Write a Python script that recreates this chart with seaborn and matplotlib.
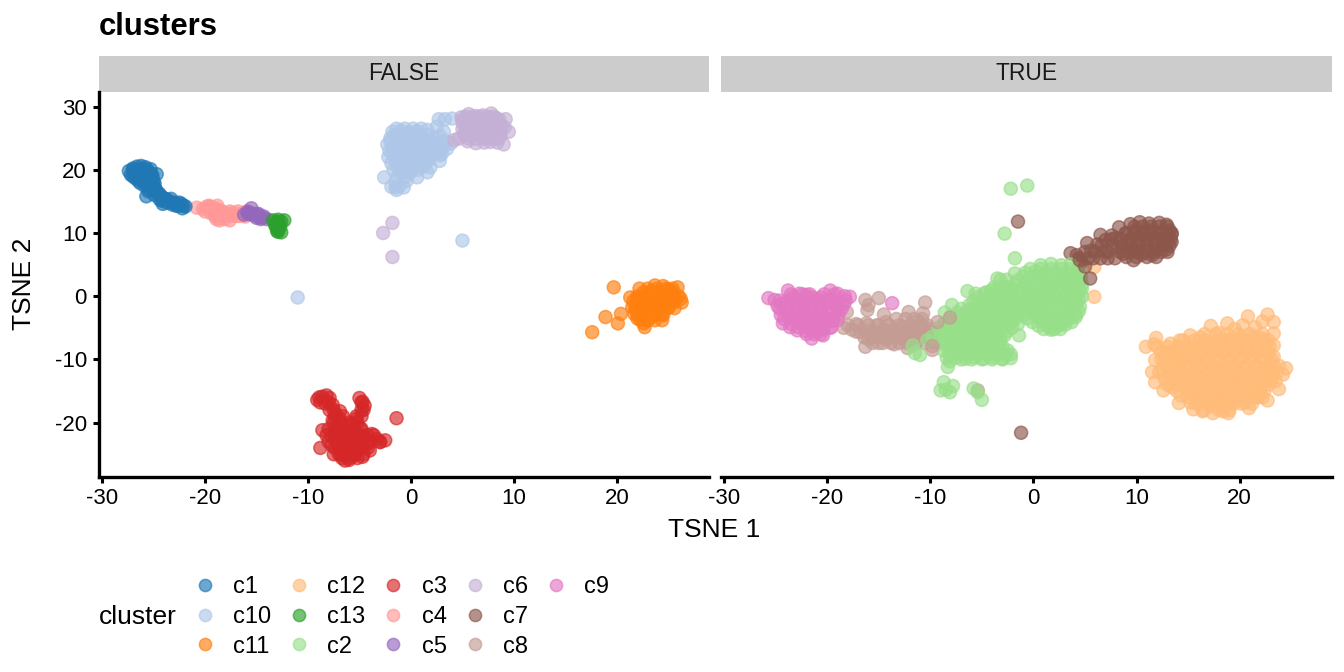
# t-SNE clusters split by a TRUE/FALSE flag
import pandas as pd
import matplotlib
matplotlib.use("Agg")
import matplotlib.pyplot as plt
from matplotlib.lines import Line2D
from matplotlib.patches import Rectangle
import seaborn as sns

# points as (TSNE 1, TSNE 2)
c10 = [(-1.8,26), (-1,26.2), (-.2,25.9), (.6,26.1), (1.6,26.3), (-2,25), (-1.2,25.1), (-.4,24.8), (.4,25.2), (1.2,24.9),
       (2.2,25), (2.8,25.4), (-2.3,24), (-1.5,23.9), (-.7,24.1), (.1,23.8), (.9,24.1), (1.7,23.9), (2.6,24.2), (3.3,24.6),
       (-2.1,23), (-1.3,23.1), (-.5,22.9), (.3,23), (1.1,22.8), (1.9,23.1), (2.7,22.9), (3.5,23.3), (-2.2,22), (-1.4,21.9),
       (-.6,22.1), (.2,21.9), (1,22), (1.8,21.8), (2.8,21.4), (-1.9,21), (-1.1,21.1), (-.3,20.9), (.5,21), (1.3,20.8),
       (1.9,20.4), (-1.7,20), (-.9,20.1), (-.1,19.8), (.7,20), (1.6,19.6), (-1.3,19), (-.5,18.9), (-2.6,18.8), (.6,18.8),
       (-1.9,17.3), (-1.5,17.2), (-1.1,17.4), (-.7,17.2), (-1.4,16.8), (-.4,18.3), (-1.5,18.2),
       (2.7,28), (3.3,28), (4,28.1), (2.5,26.8), (3.2,26), (3.9,24.2), (2.8,22.3), (5,8.8), (-11,-.2)]
c6 = [(4.9,28.3), (5.6,28.8), (6.3,28.5), (7,28.6), (7.8,28.9), (8.3,28.2), (5,27.4), (5.7,27.6), (6.4,27.5), (7.1,27.3),
      (7.8,27.6), (8.5,27.4), (9.2,28), (5,26.4), (5.6,26.5), (6.3,26.3), (7,26.6), (7.7,26.4), (8.4,26.5), (9.1,26.7),
      (5.2,25.4), (5.9,25.3), (6.6,25.5), (7.3,25.2), (8,25.5), (8.7,25.3), (9.5,26), (4.6,24.9), (5.5,24.5), (6.3,24.2),
      (7.1,24.3), (7.7,24.4), (8.4,24.3), (9,24), (4.2,24.7), (-2.7,10), (-1.8,11.6), (-1.8,6.2)]
c4 = [(-20.8,14), (-20.2,13.8), (-19.8,14.2), (-19.4,14.1), (-19,13.9), (-19.4,13.1), (-19,13), (-18.6,13.6), (-18.9,12.2),
      (-18.5,12.8), (-18.1,13.2), (-18.1,12.2), (-17.7,12.9), (-17.3,13.2), (-16.9,12.7), (-16.5,13.1), (-16.1,12.6), (-15.8,13.4)]
c1 = [(-27.4,19.8), (-27.2,19.2), (-27,20.2), (-26.8,19.4), (-26.6,20.5), (-26.5,20), (-26.4,19.6), (-26.2,20.6), (-26,19.6),
      (-26,20.1), (-25.8,20.4), (-25.6,19.5), (-25.3,20.1), (-25.4,18.9), (-25.2,19.3), (-24.7,19.3), (-26.8,18.7), (-26.3,18.6),
      (-25.8,18.4), (-25.4,18), (-25.9,17.5), (-26.3,17.9), (-25.2,17.3), (-24.9,17.1), (-25.7,15.8), (-25.5,16.6), (-24.8,16.8),
      (-24.5,16.3), (-24.3,15.9), (-24,15.5), (-24.2,15.1), (-23.7,15.3), (-23.4,14.9), (-23.2,14.5), (-24.1,14.6), (-22.9,14.7),
      (-22.6,14.3), (-22.3,14.6), (-22.2,13.9), (-21.9,14.2), (-25,18.2), (-24.9,17.8), (-23.3,15.4)]
c5 = [(-16.2,12.9), (-15.7,13.2), (-15.5,13.9), (-15.3,12.8), (-15,13), (-14.7,12.5), (-14.3,12.6), (-14.6,12.2), (-14,12.2), (-15.9,13.3)]
c13 = [(-13.4,12), (-12.9,12.1), (-12.3,12), (-13.2,11.3), (-12.8,11.4), (-12.9,10.6), (-12.6,10.1), (-13,10.3),
       (-13,11.8), (-12.7,11), (-13.1,11), (-12.6,11.8), (-12.9,10.2)]
c3 = [(-9.1,-16.4), (-8.6,-15.9), (-8.2,-15.7), (-8.9,-16), (-7.9,-16.1), (-8.3,-17), (-7.9,-18), (-7.6,-17.2), (-7.3,-18.7), (-7.6,-19.6),
      (-7,-19.3), (-6.9,-18.2), (-5,-16.1), (-4.7,-16.7), (-4.5,-17.3), (-4.8,-18), (-4.8,-19), (-5.3,-19.4), (-5.6,-20.2), (-6.2,-20.4),
      (-7,-20.6), (-7.4,-21.2), (-6.5,-21.4), (-5.7,-21.2), (-4.9,-21), (-8.6,-21.2), (-7.7,-22.2), (-7,-22.4), (-6.2,-22.8), (-5.4,-22.4),
      (-4.6,-22.1), (-3.8,-21.8), (-3.3,-22.6), (-2.5,-22.8), (-3,-23.1), (-4.1,-23.2), (-8.8,-24), (-7.7,-23.6), (-7,-23.9), (-6.3,-24),
      (-5.5,-23.7), (-4.7,-24), (-4,-24.4), (-7.5,-25), (-6.8,-25.1), (-6.2,-25), (-5.5,-25.2), (-4.7,-25.4), (-6.4,-26), (-6,-25.9), (-1.4,-19.3)]
c11 = [(23.7,1.7), (24.5,1.6), (25,1), (25.9,1.4), (25.4,.7), (22.2,1.2), (22.6,.6), (23.3,.8), (24,.6), (24.7,.2),
       (25.5,.1), (26.2,-.4), (26.3,-1), (21.3,-.2), (22,-.3), (22.7,-.2), (23.4,-.1), (24.1,-.5), (24.8,-.7), (25.5,-.9),
       (21.5,-1.7), (22.2,-1.3), (22.9,-1.4), (23.6,-1.2), (24.3,-1.7), (25,-1.8), (25.6,-1.9), (21.7,-2.8), (22.4,-2.6), (23.1,-2.5),
       (23.8,-2.9), (24.5,-3), (22,-3.5), (22.7,-3.6), (23.4,-3.3), (24.4,-3.8), (22.7,-4.9), (22.6,-4.3), (19.7,1.4), (18.9,-3.3), (20.1,-4.3),
       (20.4,-2.8), (17.6,-5.7)]

c12 = [(10.9,-8), (11.9,-6.6), (11.7,-7.6), (13.3,-7.5), (14.2,-7), (15.2,-6.2), (16.2,-6.5), (17.2,-4.7), (18,-5.8), (18.8,-4.3),
       (19.5,-5.2), (20.8,-3.2), (20.3,-4.6), (21.5,-4.9), (22.7,-2.9), (23.3,-4.1), (22.2,-4), (23.3,-5.9), (23.3,-7.8), (23.3,-9.6),
       (24.5,-11.4), (24.2,-12.4), (23.8,-14.7), (23.5,-13.4), (22.7,-16.5), (20.9,-17.7), (18.9,-18.5), (18.4,-18.2), (17.4,-18.5), (15.5,-17.9),
       (16.4,-18.2), (14.1,-16.9), (12.6,-14.9), (11.8,-13.6), (11.5,-12), (11.8,-10.1), (12.4,-8.8), (13.5,-8.9), (14.6,-8.2), (15.7,-7.9),
       (16.8,-7.4), (17.9,-7.3), (19,-6.9), (20.1,-6.6), (21.2,-6.4), (22.2,-6.7), (12.8,-10.2), (13.9,-10), (15,-9.6), (16.1,-9.3),
       (17.2,-9), (18.3,-8.8), (19.4,-8.4), (20.5,-8.1), (21.6,-8.2), (22.5,-8.7), (12.5,-11.6), (13.6,-11.4), (14.7,-11.1), (15.8,-10.9),
       (16.9,-10.6), (18,-10.3), (19.1,-10), (20.2,-9.8), (21.3,-9.7), (22.4,-10.2), (23.3,-11), (12.7,-13), (13.8,-12.9), (14.9,-12.6),
       (16,-12.3), (17.1,-12.1), (18.2,-11.8), (19.3,-11.6), (20.4,-11.3), (21.5,-11.2), (22.6,-11.7), (23.6,-12), (13.4,-14.4), (14.5,-14.2),
       (15.6,-13.9), (16.7,-13.6), (17.8,-13.3), (18.9,-13.1), (20,-12.9), (21.1,-12.7), (22.2,-13), (23,-13.4), (14.3,-15.7), (15.4,-15.5),
       (16.5,-15.2), (17.6,-14.9), (18.7,-14.6), (19.8,-14.4), (20.9,-14.2), (22,-14.6), (15.2,-16.8), (16.3,-16.6), (17.4,-16.4), (18.5,-16.1),
       (19.6,-15.9), (20.7,-15.7), (21.8,-15.9), (17.2,-17.4), (18.3,-17.3), (19.4,-17), (20.5,-16.8), (5.9,4.6), (5.9,-.1)]
c7 = [(3.6,6.8), (4.2,6.5), (4.6,5.4), (5.2,8.4), (5.6,7.2), (5.3,6), (6.5,9.7), (6.2,8.2), (7,8.9), (6.9,7.1),
      (7.2,6), (7.6,9.6), (8.3,10.9), (8,9.2), (8.2,7.7), (8.7,6.7), (9.7,5.7), (8.9,9.9), (9.2,8.6), (9.4,11.4),
      (9.6,7.3), (9.9,10.4), (10.1,8.7), (10.3,11.7), (10.5,6.6), (10.7,9.6), (11,7.8), (11.2,11.5), (11.4,10.4), (11.5,6.5),
      (11.7,8.9), (12,7.3), (12.2,11.6), (12.4,10), (12.5,8.3), (12.9,11.3), (13,9.2), (13.2,10.4), (13.4,8.6), (13.4,9.8),
      (12.9,7.4), (-1.5,11.8), (-1.2,-21.6)]
c8 = [(-18.4,-5), (-17.6,-5.3), (-16.8,-5.7), (-16.3,-8), (-16,-6.8), (-15.2,-6.2), (-15,-7.4), (-14.3,-5.4), (-14.2,-6.8), (-13.5,-7.6),
      (-13.4,-5.8), (-12.6,-6.7), (-12.7,-4.8), (-12.2,-8.2), (-11.9,-7), (-12.1,-2.5), (-11.6,-5.4), (-11.2,-3.9), (-10.9,-6.3), (-10.8,-4.7),
      (-10.5,-1), (-10.7,-2.7), (-10.1,-5.2), (-9.8,-8.5), (-9.6,-7.3), (-16.3,-.6), (-16.1,-2.2), (-15,-.3), (-14.5,-2.9), (-18.1,-2.5),
      (-17.2,-4.4), (-16.2,-4.3), (-15.2,-4.6), (-14.3,-4.1), (-13.3,-3.6), (-5.4,-14.9)]
c9 = [(-25.7,-.3), (-25.1,-.6), (-24.4,-1.2), (-23.8,.9), (-23.3,-.1), (-22.7,.4), (-22,.2), (-21.4,-.2), (-20.6,-.2), (-19.7,.9),
      (-19,.4), (-18.3,0), (-17.8,-.1), (-24.8,-1.6), (-24,-2), (-23.2,-1.5), (-22.4,-1.4), (-21.6,-1.6), (-20.8,-1.4), (-20,-1.2),
      (-19.2,-1.2), (-18.4,-1.3), (-24.5,-3), (-23.7,-3.2), (-22.9,-2.9), (-22.1,-3), (-21.3,-3), (-20.5,-2.8), (-19.7,-2.7), (-18.9,-2.9),
      (-24.3,-4.3), (-23.5,-4.4), (-22.7,-4.2), (-21.9,-4.3), (-21.1,-4.3), (-20.3,-4), (-19.5,-3.9), (-19,-3.8), (-22.9,-5.4), (-22.1,-5.5),
      (-21.3,-5.5), (-20.4,-5.3), (-19.7,-5), (-21.5,-6.7), (-20.4,-6.2), (-13.7,-1.1)]
c2 = [(-4.6,.6), (-3.6,.8), (-5.4,-.2), (-4.4,-.3), (-3.5,-.1), (-2.6,-.2), (-6.2,-1.4), (-5.3,-1.3), (-4.4,-1.5), (-3.5,-1.3),
      (-2.6,-1.5), (-1.7,-1.3), (-7.4,-2.6), (-6.5,-2.5), (-5.6,-2.7), (-4.7,-2.5), (-3.8,-2.7), (-2.9,-2.5), (-2,-2.7), (-1.1,-2.6),
      (-8.2,-3.8), (-7.3,-3.7), (-6.4,-3.9), (-5.5,-3.7), (-4.6,-3.9), (-3.7,-3.7), (-2.8,-3.9), (-1.9,-3.8), (-9.2,-5), (-8.4,-5.1),
      (-7.5,-4.9), (-6.6,-5.1), (-5.7,-4.9), (-4.8,-5.1), (-3.9,-4.9), (-3,-5.1), (-2.1,-5), (-9,-6.2), (-8.1,-6.1), (-7.2,-6.3),
      (-6.3,-6.1), (-5.4,-6.3), (-4.5,-6.1), (-3.6,-6.3), (-2.8,-6.2), (-8.8,-7.4), (-7.9,-7.3), (-7,-7.5), (-6.1,-7.3), (-5.2,-7.5),
      (-4.3,-7.3), (-3.4,-7.5), (-8.7,-8.6), (-7.8,-8.5), (-6.9,-8.7), (-6,-8.5), (-5.1,-8.7), (-4.2,-8.5), (-3.3,-8.7), (-2.5,-8.6),
      (-8.4,-9.8), (-7.5,-9.7), (-6.6,-9.9), (-5.7,-9.7), (-4.8,-9.9), (-3.9,-9.7), (-3,-9.9), (-2.2,-9.8), (-8.3,-11.2), (-8.1,-10.3),
      (-8.7,-13.6), (-9,-14.9), (-8.1,-15.2), (-7.8,-14.2), (-8.5,-14.8), (-5.8,-14.6), (-5,-16.4), (-5.4,-15.2), (-11.7,-7.8), (-11,-9.3),
      (-11.5,-9), (-10.3,-7), (-9.8,-6.4), (-3.5,2.8), (-1.8,6), (-6.4,.8), (-7.9,-1.4), (-8.6,-2.6), (-1.4,-6.2), (-2.2,17),
      (-.6,17.5), (-2.8,9.9), (.7,4.9), (1.7,5.1), (2.7,4.9), (3.6,5), (-.8,3.7), (.2,3.9), (1.2,3.7), (2.2,3.8),
      (3.2,3.6), (4.2,3.8), (-1.5,2.5), (-.5,2.7), (.5,2.5), (1.5,2.6), (2.5,2.4), (3.5,2.6), (4.5,2.5), (-2.2,1.3),
      (-1.2,1.1), (-.2,1.3), (.8,1.2), (1.8,1.4), (2.8,1.2), (3.8,1.3), (4.7,1.2), (-2,.1), (-1,-.1), (0,.1),
      (1,-.1), (2,.1), (3,-.1), (4,.1), (4.7,-.1), (-1.8,-1.1), (-.8,-1.2), (.2,-1), (1.2,-1.2), (2.2,-1),
      (3.2,-1.2), (4.2,-1.1), (-1.3,-2.3), (-.3,-2.2), (.7,-2.4), (1.7,-2.2), (2.7,-2.4), (3.7,-2.2), (4.4,-2.4), (-.6,-3.5),
      (.4,-3.4), (1.4,-3.6), (2.4,-3.4), (3.4,-3.6), (4.1,-3.3), (.5,-4.7), (1.5,-4.9), (2.5,-4.6), (3.1,-4.5), (1.7,-5.3)]
c7_top = [(4.5,5.7), (5,4.7), (5.5,2.8)]
c8_top = [(-9.3,-4.1), (-8.1,-3.4), (-9.8,-7.9)]

# the dense middles of the blobs, one (TSNE 2, [TSNE 1 ...]) per row
c10_rows = [(26.5, [-1.4, -.6, .2, 1]), (25.5, [-1.6, -.8, 0, .8, 1.6]), (24.5, [-2, -1.1, -.3, .5, 1.3, 2.1]),
            (23.5, [-1.7, -.9, -.1, .7, 1.5, 2.3, 3.1]), (22.5, [-1.8, -1, -.2, .6, 1.4, 2.2, 3]),
            (21.5, [-1.5, -.7, .1, .9, 1.7]), (20.5, [-1.3, -.5, .3, 1.1]), (19.5, [-.9, -.1])]
c6_rows = [(28.4, [5.3, 6, 6.7, 7.4, 8]), (27.9, [5, 5.7, 6.4, 7.1, 7.8, 8.6]), (26.9, [5.3, 6, 6.7, 7.4, 8.1, 8.8]),
           (25.9, [5.2, 5.9, 6.6, 7.3, 8, 8.7]), (24.9, [5.6, 6.3, 7, 7.7, 8.4])]
c4_rows = [(14.3, [-19.6, -18.8]), (13.4, [-20, -19.2, -18.4, -17.6, -16.8, -16]), (12.7, [-19, -18.2, -17.4, -16.6]),
           (12, [-18.6, -17.6])]
c1_rows = [(20, [-27, -26.2, -25.6]), (19.5, [-26.8, -26, -25.4]), (19, [-27, -26.3, -25.7, -25.1]), (18.3, [-26.5, -25.9, -25.3]),
           (17.7, [-25.7, -25.2]), (16.9, [-25.4, -24.8]), (16, [-24.9, -24.4]), (15.3, [-24.4, -23.9]),
           (14.8, [-23.7, -23, -22.5]), (14.3, [-22.8, -22.1])]
c5_rows = [(13, [-15.8, -15.2, -14.8]), (12.4, [-15, -14.4])]
c3_rows = [(-16.8, [-8.8, -8, -4.8]), (-18, [-7.5, -4.6]), (-19, [-7.4, -6.6, -5.3]), (-20, [-7.5, -6.8, -6, -5.2]),
           (-21, [-8, -7.2, -6.4, -5.6, -4.8]), (-22, [-8.2, -7.4, -6.6, -5.8, -5, -4.2, -3.6]),
           (-23, [-8, -7.2, -6.4, -5.6, -4.8, -4, -3]), (-24, [-7.4, -6.6, -5.8, -5, -4.2]),
           (-25, [-7, -6.2, -5.4, -4.6]), (-25.6, [-6.7, -6, -5.2])]
c11_rows = [(1.2, [23, 23.9, 24.8, 25.4]), (0, [22, 22.8, 23.6, 24.4, 25.2, 26]), (-.8, [21.6, 22.4, 23.2, 24, 24.8, 25.6]),
            (-1.8, [21.8, 22.6, 23.4, 24.2, 25]), (-2.8, [22, 22.8, 23.6, 24.4]), (-3.8, [22.3, 23, 23.7])]
c12_rows = [(-6, [16.6, 17.7, 18.8, 19.9, 21, 22.2]), (-7, [14.5, 15.6, 16.7, 17.8, 18.9, 20, 21.1, 22.2, 22.8]),
            (-8, [12, 13, 14.1, 15.2, 16.3, 17.4, 18.5, 19.6, 20.7, 21.8, 22.9]),
            (-9, [12.9, 14, 15.1, 16.2, 17.3, 18.4, 19.5, 20.6, 21.7, 22.8]),
            (-10, [12.4, 13.5, 14.6, 15.7, 16.8, 17.9, 19, 20.1, 21.2, 22.3, 23.1]),
            (-11, [12.9, 14, 15.1, 16.2, 17.3, 18.4, 19.5, 20.6, 21.7, 22.8, 23.8]),
            (-12, [12.2, 13.3, 14.4, 15.5, 16.6, 17.7, 18.8, 19.9, 21, 22.1, 23.2]),
            (-13, [13.2, 14.3, 15.4, 16.5, 17.6, 18.7, 19.8, 20.9, 22, 23.1]),
            (-14, [13, 14, 15.1, 16.2, 17.3, 18.4, 19.5, 20.6, 21.7, 22.8]),
            (-15, [13.9, 15, 16.1, 17.2, 18.3, 19.4, 20.5, 21.6, 22.4]),
            (-16, [15, 16.1, 17.2, 18.3, 19.4, 20.5, 21.6, 22.2]), (-17, [15.8, 16.9, 18, 19.1, 20.2, 21.2]), (-18, [16.5, 18, 19])]
c7_rows = [(11, [9.8, 10.6, 11.4, 12.2, 13]), (10, [9, 9.8, 10.6, 11.4, 12.2, 13, 13.4]),
           (9, [7.5, 8.5, 9.4, 10.2, 11, 11.8, 12.6, 13.3]), (8, [6.6, 7.6, 8.6, 9.4, 10.2, 11, 11.8, 12.6, 13.2]),
           (7, [5, 6, 7.2, 8.4, 9.2, 10, 10.8, 11.6, 12.4, 13]), (6.2, [9, 10, 11, 11.9]), (6, [4.4, 5.8, 6.5, 7.9])]
c8_rows = [(-1.4, [-16]), (-3.6, [-12.4, -11.6, -10.8]), (-4.6, [-18, -17, -16, -15, -14, -13, -12, -11, -10.3]),
           (-5.6, [-17.2, -16.2, -15.4, -14.6, -13.8, -13, -12.2, -11.4, -10.6, -9.8]),
           (-6.5, [-16.4, -15.6, -14.8, -14, -13.2, -12.4, -11.6, -10.8, -10]),
           (-7.4, [-15.6, -14.6, -13.8, -13, -12.2, -11.4, -10.6])]
c9_rows = [(.3, [-23.5, -22.4, -21.7, -20.3, -19.3]), (-.7, [-24.6, -23.8, -23, -22.2, -21.4, -20.6, -19.8, -19, -18.2]),
           (-2, [-24.6, -23.8, -23, -22.2, -21.4, -20.6, -19.8, -19, -18.6]), (-3.6, [-24.2, -23.4, -22.6, -21.8, -21, -20.2, -19.4]),
           (-4.9, [-23.6, -22.8, -22, -21.2, -20.4, -19.6]), (-6, [-22, -21.2, -20.6])]
c2_rows = [(4.3, [-.3, .7, 1.7, 2.7, 3.7, 4.3]), (3.6, [-1.8]), (3.1, [-1, 0, 1, 2, 3, 4, 4.6]), (2.6, [-3.2, -2.6]),
           (1.9, [-1.8, -.8, .2, 1.2, 2.2, 3.2, 4.2, 4.7]), (1.4, [-3.8, -3, -2.6]),
           (.7, [-2.5, -1.5, -.5, .5, 1.5, 2.5, 3.5, 4.5]), (.4, [-5.6, -4.8]), (-.5, [-2.3, -1.3, -.3, .7, 1.7, 2.7, 3.7, 4.4]),
           (-1.7, [-1.2, -.2, .8, 1.8, 2.8, 3.8, 4.5]), (-2.9, [-.9, .1, 1.1, 2.1, 3.1, 4.1]), (-4.1, [-.1, .9, 1.9, 2.9, 3.7]),
           (-5.2, [1, 2, 2.6]), (.9, [-4.1, -3.1]), (-.8, [-5.8, -4.9, -4, -3.1, -2.2]),
           (-2, [-7, -6.1, -5.2, -4.3, -3.4, -2.5, -1.6]), (-3.2, [-8, -7.1, -6.2, -5.3, -4.4, -3.5, -2.6, -1.7]),
           (-4.4, [-8.7, -7.8, -6.9, -6, -5.1, -4.2, -3.3, -2.4, -1.5]), (-5.6, [-8.9, -8, -7.1, -6.2, -5.3, -4.4, -3.5, -2.6]),
           (-6.8, [-8.6, -7.7, -6.8, -5.9, -5, -4.1, -3.2]), (-8, [-8.4, -7.5, -6.6, -5.7, -4.8, -3.9, -3]),
           (-9.2, [-8.1, -7.2, -6.3, -5.4, -4.5, -3.6, -2.7, -2.2]), (-10, [-7, -6, -5, -4, -3])]

cluster_names = ["c1", "c10", "c11", "c12", "c13", "c2", "c3", "c4", "c5", "c6", "c7", "c8", "c9"]
cluster_colors = ["#1f77b4", "#aec7e8", "#ff7f0e", "#ffbb78", "#2ca02c", "#98df8a", "#d62728",
                  "#ff9896", "#9467bd", "#c5b0d5", "#8c564b", "#c49c94", "#e377c2"]
panel_names = ["FALSE", "TRUE"]
x_ticks = [-30, -20, -10, 0, 10, 20]
y_ticks = [-20, -10, 0, 10, 20, 30]


def row_points(row_list):
    return [(x, y) for y, xs in row_list for x in xs]


# draw order inside each panel follows these lists
groups_false = [("c10", c10 + row_points(c10_rows)), ("c6", c6 + row_points(c6_rows)), ("c4", c4 + row_points(c4_rows)),
                ("c1", c1 + row_points(c1_rows)), ("c5", c5 + row_points(c5_rows)), ("c13", c13),
                ("c3", c3 + row_points(c3_rows)), ("c11", c11 + row_points(c11_rows))]
groups_true = [("c12", c12 + row_points(c12_rows)), ("c7", c7 + row_points(c7_rows)), ("c8", c8 + row_points(c8_rows)),
               ("c9", c9 + row_points(c9_rows)), ("c2", c2 + row_points(c2_rows)), ("c7", c7_top), ("c8", c8_top)]

rows = []
for panel, groups in zip(panel_names, [groups_false, groups_true]):
    for name, pts in groups:
        for x, y in pts:
            rows.append({"TSNE 1": x, "TSNE 2": y, "cluster": name, "panel": panel})
df = pd.DataFrame(rows)

sns.set_theme(style="ticks")
plt.rcParams["font.family"] = ["Liberation Sans", "DejaVu Sans"]
plt.rcParams["axes.unicode_minus"] = False

palette = dict(zip(cluster_names, cluster_colors))
g = sns.relplot(data=df, x="TSNE 1", y="TSNE 2", hue="cluster", col="panel", col_order=panel_names,
                palette=palette, s=88, alpha=0.65, linewidth=1.1, legend=False, facet_kws={"sharey": True})
# edge takes each point's own colour
for ax in g.axes.flat:
    for coll in ax.collections:
        coll.set_edgecolor(coll.get_facecolor())

fig = g.figure
fig.set_size_inches(13.44, 6.72)
fig.set_dpi(100)
W, H = 1344, 672
positions = [(99, 709), (721, 1332)]
top, bottom = 92, 477

for ax, panel, (left, right) in zip(g.axes.flat, panel_names, positions):
    ax.set_position([left / W, (H - bottom) / H, (right - left) / W, (bottom - top) / H])
    ax.set_xlim(-30.3, 28.95)
    ax.set_ylim(-28.6, 32.3)
    ax.set_title("")
    ax.set_xlabel("")
    ax.set_ylabel("")
    ax.set_xticks(x_ticks)
    ax.set_xticklabels([str(t) for t in x_ticks])
    ax.tick_params(axis="x", length=4.3, width=2.2, labelsize=16, color="black", labelcolor="black", pad=3.5)
    ax.spines["bottom"].set_linewidth(2.4)
    ax.spines["bottom"].set_color("black")
    ax.spines["top"].set_visible(False)
    ax.spines["right"].set_visible(False)
    # grey strip above the panel
    ax.add_patch(Rectangle((0, 1), 1, 36 / (bottom - top), transform=ax.transAxes,
                           facecolor="#cccccc", edgecolor="none", clip_on=False))
    ax.text(0.5, 1 + 18 / (bottom - top), panel, transform=ax.transAxes, ha="center", va="center",
            fontsize=16.5, color="#1a1a1a")

left_ax, right_ax = g.axes.flat
left_ax.set_yticks(y_ticks)
left_ax.set_yticklabels([str(t) for t in y_ticks])
left_ax.tick_params(axis="y", length=4.3, width=2.2, labelsize=16, color="black", labelcolor="black", pad=4.5)
left_ax.spines["left"].set_linewidth(2.4)
left_ax.spines["left"].set_color("black")
right_ax.spines["left"].set_visible(False)
right_ax.tick_params(axis="y", left=False, labelleft=False)

fig.text(99 / W, 1 - 27 / H, "clusters", fontsize=22.3, fontweight="bold", ha="left", va="center", color="black")
fig.text(714 / W, 1 - 530 / H, "TSNE 1", fontsize=19, ha="center", va="center", color="black")
fig.text(24 / W, 1 - 284 / H, "TSNE 2", fontsize=19, rotation=90, ha="center", va="center", color="black")

handles = [Line2D([], [], linestyle="none", marker="o", markersize=8.8, markeredgewidth=1.1,
                  color=c, alpha=0.65) for c in cluster_colors]
# two empty slots so the legend fills column by column with three rows
blank = Line2D([], [], linestyle="none")
fig.legend(handles + [blank, blank], cluster_names + ["", ""], ncol=5, loc="center left",
           bbox_to_anchor=(193 / W, 1 - 617 / H), frameon=False, fontsize=17, handlelength=1, labelcolor="black",
           handletextpad=0.69, columnspacing=0.69, labelspacing=0.32, borderpad=0, borderaxespad=0)
fig.text(99 / W, 1 - 617 / H, "cluster", fontsize=19, ha="left", va="center", color="black")

fig.savefig("out.png", dpi=100)
